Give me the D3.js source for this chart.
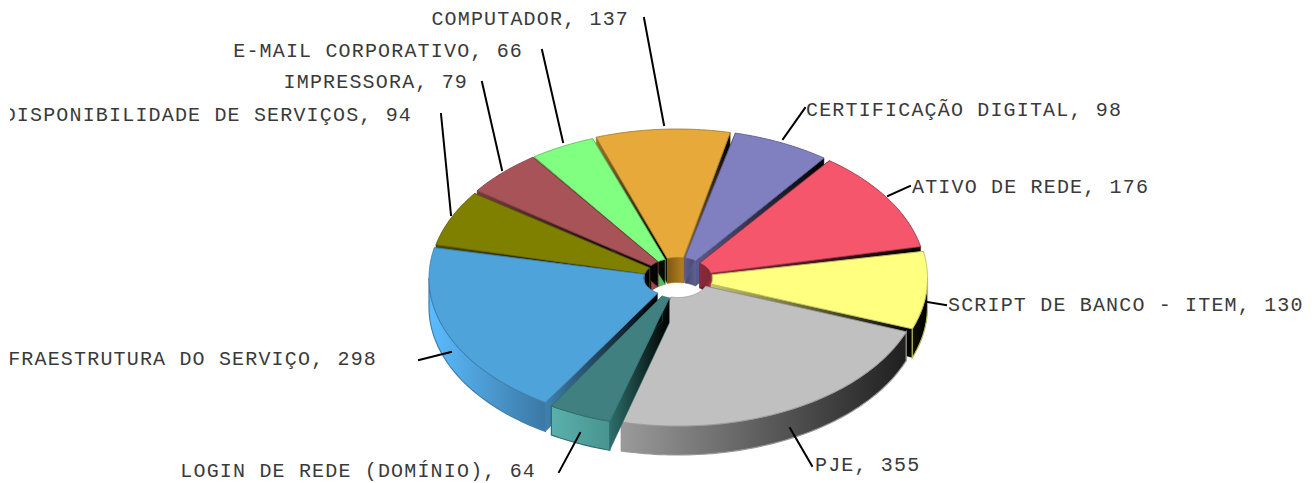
<!DOCTYPE html>
<html><head><meta charset="utf-8">
<script src="https://cdn.jsdelivr.net/npm/d3@7/dist/d3.min.js"></script>
<style>html,body{margin:0;padding:0;background:#fff}svg{display:block}</style>
</head><body><svg id="c" width="1312" height="483"></svg>
<script>
// ---- data (clockwise from the top) ----
const categories = ["CERTIFICAÇÃO DIGITAL","ATIVO DE REDE","SCRIPT DE BANCO - ITEM","PJE","LOGIN DE REDE (DOMÍNIO)","INFRAESTRUTURA DO SERVIÇO","DISPONIBILIDADE DE SERVIÇOS","IMPRESSORA","E-MAIL CORPORATIVO","COMPUTADOR"];
const values = [98,176,130,355,64,298,94,79,66,137];
// ---- styles ----
const topColors  = ["#8080C0","#F5566B","#FFFF80","#C0C0C0","#408080","#4FA3DB","#808000","#A85358","#80FF80","#E6A93A"];
const edgeColors = ["#55558a","#8a3040","#b8b860","#999999","#2f6e6e","#3d7fae","#5a5a00","#7a3a40","#5cb85c","#a07a2a"];
const outerFrom  = ["#55558a","#8a3040","#101000","#9a9a9a","#5AB0AC","#5CBCFF","#5a5a00","#7a3a40","#5cb85c","#a07a2a"];
const outerTo    = ["#33334f","#3a1018","#000000","#1f1f1f","#489490","#3B78A4","#333300","#4a2024","#3a8a3a","#6a4e18"];
const sideFrom   = ["#5a5a8c","#8a2a3c","#c4c468","#666666","#2c6e6a","#3f82b0","#4a4a00","#7a3a40","#5cb05c","#9a7226"];
const innerFrom  = ["#45456e","#5a1522","#e8e880","#777777","#2c6e6a","#3f82b0","#e0e000","#b04a58","#55b060","#7f5810"];
const innerTo    = ["#5f5f92","#a82f45","#c8c860","#777777","#2c6e6a","#3f82b0","#6a6a00","#8f3a4a","#66c070","#b58020"];
// ---- layout ----
const cx = 676, cy = 275, rx = 244, ry = 146, depth = 29, hubDepth = 25, holeR = 0.12, startDeg = 13.4;
const shiftX = [2,6,7.5,2,1.5,-3,-2.5,-1,-1,1];
const shiftY = [0,2,3,5,6,3,3,1,1,0];
const trimStart = [0.2,0.2,0.2,0.2,0.2,0.2,0.2,0.2,0.2,0.2];
const trimEnd   = [0.2,1.3,0.2,2.5,0.2,1,0.2,0.2,0.2,0.8];
const leaderFrom = [[783,139],[888,196],[927,302],[790,428],[580,433],[451,352],[451,215],[502,170],[563,142],[664,125]];
const leaderTo   = [[805,108],[910,186],[946,305],[812,466],[559,472],[419,360],[441,114],[482,82],[542,50],[644,18]];
const labelAt    = [[806,109,"start"],[912,186,"start"],[948,304,"start"],[815,464,"start"],[536,470,"end"],[377,358,"end"],[412,114,"end"],[468,81,"end"],[523,50,"end"],[629,18,"end"]];

const rad = d => d * Math.PI / 180;
const svg = d3.select("#c");
const defs = svg.append("defs");
const xS = d3.scaleLinear().domain([-1,1]).range([cx-rx,cx+rx]);
const yS = d3.scaleLinear().domain([-1,1]).range([cy-ry,cy+ry]);
const pie = d3.pie().sort(null).startAngle(rad(startDeg)).endAngle(rad(startDeg+360));
const arcs = pie(values);
const line = d3.line();

let gid = 0;
function grad(x0,x1,c0,c1){
  const id = "g"+(gid++);
  const g = defs.append("linearGradient").attr("id",id).attr("gradientUnits","userSpaceOnUse")
    .attr("x1",x0).attr("x2",x1).attr("y1",0).attr("y2",0);
  g.append("stop").attr("offset",0).attr("stop-color",c0);
  g.append("stop").attr("offset",1).attr("stop-color",c1);
  return `url(#${id})`;
}
function pt(a,r,s,dy){ return [xS(r*Math.sin(a))+s.ox, yS(-r*Math.cos(a))+s.oy+(dy||0)]; }
function samples(a0,a1){ const n=Math.max(2,Math.ceil(Math.abs(a1-a0)/0.02)); return d3.range(n+1).map(i=>a0+(a1-a0)*i/n); }

const slices = arcs.map((d,i)=>({
  i,
  a0:d.startAngle+rad(trimStart[i]),
  a1:d.endAngle-rad(trimEnd[i]),
  mid:(d.startAngle+d.endAngle)/2,
  ox:shiftX[i], oy:shiftY[i]
}));
const order = slices.slice().sort((p,q)=>(-Math.cos(p.mid))-(-Math.cos(q.mid)));
const g = svg.append("g");

function clampHalf(a0,a1,base){
  const out=[]; const P=Math.PI;
  for(const k of [-1,0,1]){
    const lo=Math.max(a0,base+2*P*k), hi=Math.min(a1,base+P+2*P*k);
    if(hi>lo) out.push([lo,hi]);
  }
  return out;
}
order.forEach(s=>{
  const i=s.i;
  clampHalf(s.a0,s.a1,-Math.PI/2).forEach(([lo,hi])=>{
    const up=samples(lo,hi).map(a=>pt(a,holeR,s,0)), dn=samples(hi,lo).map(a=>pt(a,holeR,s,hubDepth));
    const xs=up.map(p=>p[0]);
    g.append("path").attr("d",line(up.concat(dn))+"Z")
      .attr("fill",grad(d3.min(xs),d3.max(xs),innerFrom[i],innerTo[i]))
      .attr("stroke",edgeColors[i]).attr("stroke-width",0.8);
  });
  [s.a0,s.a1].forEach(a=>{
    const h=pt(a,holeR,s,0), o=pt(a,1,s,0);
    const lo=Math.min(h[0],o[0]), hi=Math.max(h[0],o[0]);
    g.append("path").attr("d",line([h,o,[o[0],o[1]+depth],[h[0],h[1]+hubDepth]])+"Z")
      .attr("fill",grad(lo,hi,sideFrom[i],"#000000"))
      .attr("stroke",sideFrom[i]).attr("stroke-width",0.5);
  });
  clampHalf(s.a0,s.a1,Math.PI/2).forEach(([lo,hi])=>{
    const up=samples(lo,hi).map(a=>pt(a,1,s,0)), dn=samples(hi,lo).map(a=>pt(a,1,s,depth));
    const xs=up.map(p=>p[0]);
    g.append("path").attr("d",line(up.concat(dn))+"Z")
      .attr("fill",grad(d3.min(xs),d3.max(xs),outerFrom[i],outerTo[i]))
      .attr("stroke",edgeColors[i]).attr("stroke-width",1.2);
  });
  const outer=samples(s.a0,s.a1).map(a=>pt(a,1,s,0)), inner=samples(s.a1,s.a0).map(a=>pt(a,holeR,s,0));
  g.append("path").attr("d",line(outer.concat(inner))+"Z")
    .attr("fill",topColors[i]).attr("stroke",edgeColors[i]).attr("stroke-width",0.8);
});
svg.append("g").selectAll("line").data(categories).join("line")
  .attr("x1",(d,i)=>leaderFrom[i][0]).attr("y1",(d,i)=>leaderFrom[i][1])
  .attr("x2",(d,i)=>leaderTo[i][0]).attr("y2",(d,i)=>leaderTo[i][1])
  .attr("stroke","#000").attr("stroke-width",2).attr("stroke-linecap","square");
defs.append("clipPath").attr("id","clip").append("rect").attr("x",10).attr("y",0).attr("width",1302).attr("height",483);
svg.append("g").attr("clip-path","url(#clip)").selectAll("text").data(categories).join("text")
  .attr("x",(d,i)=>labelAt[i][0]).attr("y",(d,i)=>labelAt[i][1]).attr("dy","0.35em")
  .attr("text-anchor",(d,i)=>labelAt[i][2])
  .attr("font-family","'Liberation Mono',monospace").attr("font-size",20).attr("letter-spacing",1.17)
  .attr("fill","#3a3a3a")
  .text((d,i)=>`${d}, ${values[i]}`);
</script></body></html>
